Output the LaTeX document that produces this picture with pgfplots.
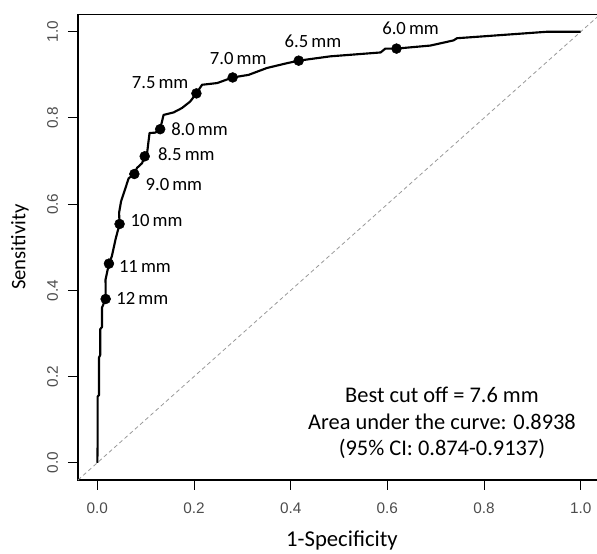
\documentclass[border=0pt]{standalone}
\usepackage{fontspec}
\setmainfont{Carlito}
\newfontfamily\arialfont{Liberation Sans}
\usepackage{pgfplots}
\pgfplotsset{compat=1.18}

\begin{document}
\begin{tikzpicture}
\useasboundingbox (0,0) rectangle (447.75pt,415.5pt);
\begin{axis}[
  at={(58.5pt,55.5pt)}, anchor=south west,
  scale only axis, width=389.7pt, height=349.1pt,
  xmin=-0.04, xmax=1.035, ymin=-0.04, ymax=1.04,
  xtick={0,0.2,0.4,0.6,0.8,1}, xticklabels={0.0,0.2,0.4,0.6,0.8,1.0},
  ytick={0,0.2,0.4,0.6,0.8,1}, yticklabels={0.0,0.2,0.4,0.6,0.8,1.0},
  xtick pos=left, ytick pos=left,
  tick align=outside, major tick length=7.5pt,
  tick style={black, line width=0.75pt},
  axis line style={draw=none},
  ticklabel style={font=\arialfont\fontsize{11.5}{13}\selectfont, text=black!70},
  xticklabel style={anchor=center},
  yticklabel style={rotate=90, anchor=center},
  xticklabel shift=13.5pt, yticklabel shift=11.5pt,
  xlabel={1-Specificity}, ylabel={Sensitivity},
  xlabel style={font=\fontsize{17}{20}\selectfont, inner sep=0pt, at={(axis description cs:0.508,-0.131)}, anchor=center},
  ylabel style={font=\fontsize{15.5}{18}\selectfont, inner sep=0pt, at={(axis description cs:-0.1117,0.5)}, anchor=center},
  clip=false,
]
% frame (no right side)
\draw[line width=0.9pt] (rel axis cs:1,1) -- (rel axis cs:0,1) -- (rel axis cs:0,0) -- (rel axis cs:1,0);

% chance line
\addplot[gray!80, line width=0.6pt, dash pattern=on 3pt off 2.2pt] coordinates {(-0.04,-0.04) (1.035,1.035)};

% ROC curve
\addplot[black, line width=1.6pt, line join=round] coordinates {
 (0,0) (0.0007,0.05) (0.0007,0.154) (0.0035,0.157) (0.0035,0.244)
 (0.006,0.25) (0.006,0.31) (0.0097,0.315) (0.0097,0.36) (0.0172,0.38)
 (0.017,0.425) (0.024,0.462) (0.030,0.479) (0.038,0.52) (0.046,0.554)
 (0.045,0.58) (0.049,0.606) (0.0648,0.660) (0.0766,0.670) (0.082,0.684)
 (0.0925,0.695) (0.098,0.711) (0.103,0.719) (0.108,0.765) (0.120,0.766)
 (0.130,0.774) (0.137,0.807) (0.158,0.813) (0.175,0.823) (0.192,0.838)
 (0.205,0.857) (0.2166,0.877) (0.248,0.881) (0.280,0.894) (0.313,0.900)
 (0.351,0.916) (0.392,0.927) (0.4166,0.933) (0.482,0.943) (0.586,0.952)
 (0.596,0.961) (0.619,0.961) (0.689,0.968) (0.737,0.980) (0.744,0.985)
 (0.930,1.0) (1,1)
};

% cut-off points
\addplot[only marks, mark=*, mark size=3.7pt, black] coordinates {
 (0.0172,0.38) (0.024,0.462) (0.046,0.554) (0.0766,0.670) (0.098,0.711)
 (0.130,0.774) (0.205,0.857) (0.280,0.894) (0.4166,0.933) (0.619,0.961)
};

\begin{scope}[every node/.style={font=\fontsize{14}{16}\selectfont, inner sep=0pt}]
\node[anchor=west] at (axis cs:0.039,0.3805) {12\,mm};
\node[anchor=west] at (axis cs:0.0443,0.4555) {11\,mm};
\node[anchor=west] at (axis cs:0.0683,0.562) {10\,mm};
\node[anchor=west] at (axis cs:0.0993,0.6466) {9.0\,mm};
\node[anchor=west] at (axis cs:0.125,0.7169) {8.5\,mm};
\node[anchor=west] at (axis cs:0.1524,0.774) {8.0\,mm};
\node[anchor=east] at (axis cs:0.189,0.8824) {7.5\,mm};
\node[anchor=west] at (axis cs:0.2324,0.939) {7.0\,mm};
\node[anchor=west] at (axis cs:0.387,0.979) {6.5\,mm};
\node[anchor=west] at (axis cs:0.589,1.007) {6.0\,mm};
\end{scope}

\node[align=center, font=\fontsize{16.8}{20}\selectfont] at (axis cs:0.713,0.092)
  {Best cut off = 7.6 mm\\Area under the curve: 0.8938\\(95\% CI: 0.874-0.9137)};
\end{axis}
\end{tikzpicture}
\end{document}
